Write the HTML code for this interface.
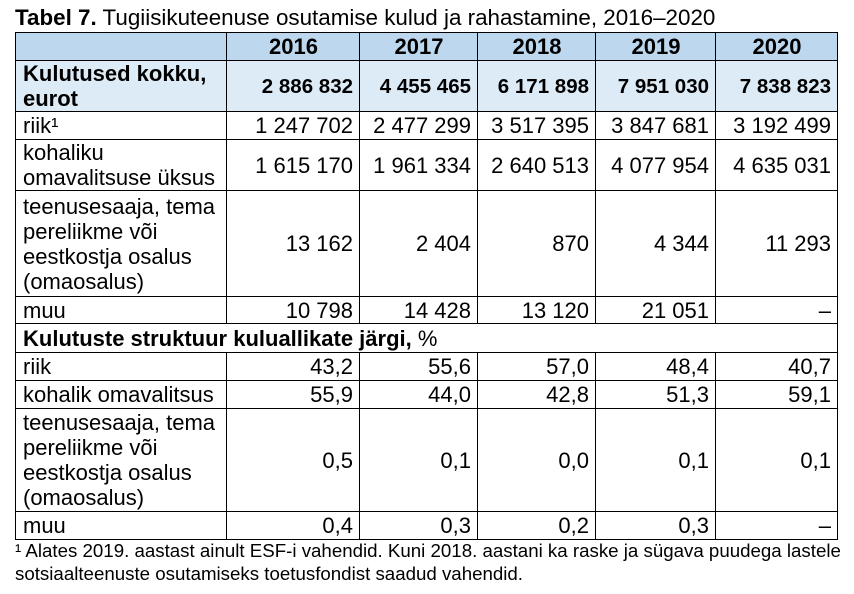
<!DOCTYPE html>
<html><head><meta charset="utf-8"><style>
body{margin:0;width:854px;height:594px;background:#fff;font-family:"Liberation Sans",Arial,sans-serif;color:#000;position:relative;overflow:hidden}
.title{position:absolute;left:15px;top:5px;font-size:22.4px;line-height:25px;white-space:nowrap}
table{position:absolute;left:15px;top:32px;border-collapse:collapse;table-layout:fixed;width:822px;font-size:22px;line-height:25px}
td{border:1px solid #000;padding:0 6px 0 7px;text-align:right;vertical-align:middle;white-space:nowrap;overflow:hidden}
td:first-child{text-align:left;white-space:normal}
tr.h td{background:#BDD7EE;font-weight:bold;text-align:center;font-size:22px}
tr.k td{background:#DDEBF7;font-weight:bold;font-size:20.5px}
tr.k td:first-child{font-size:22px}
tr.s td{text-align:left;font-weight:bold;font-size:22px}
.fn{position:absolute;left:15px;top:540px;font-size:18.7px;line-height:22.5px;white-space:nowrap}
</style></head><body>
<div class="title"><b>Tabel 7.</b> Tugiisikuteenuse osutamise kulud ja rahastamine, 2016–2020</div>
<table>
<colgroup><col style="width:211px"><col style="width:133px"><col style="width:118px"><col style="width:118px"><col style="width:120px"><col style="width:122px"></colgroup>
<tr class="h" style="height:28px"><td></td><td>2016</td><td>2017</td><td>2018</td><td>2019</td><td>2020</td></tr>
<tr class="k" style="height:51px"><td>Kulutused kokku, eurot</td><td>2 886 832</td><td>4 455 465</td><td>6 171 898</td><td>7 951 030</td><td>7 838 823</td></tr>
<tr style="height:28px"><td>riik¹</td><td>1 247 702</td><td>2 477 299</td><td>3 517 395</td><td>3 847 681</td><td>3 192 499</td></tr>
<tr style="height:50px"><td>kohaliku omavalitsuse üksus</td><td>1 615 170</td><td>1 961 334</td><td>2 640 513</td><td>4 077 954</td><td>4 635 031</td></tr>
<tr style="height:106px"><td>teenusesaaja, tema pereliikme või eestkostja osalus (omaosalus)</td><td>13 162</td><td>2 404</td><td>870</td><td>4 344</td><td>11 293</td></tr>
<tr style="height:27px"><td>muu</td><td>10 798</td><td>14 428</td><td>13 120</td><td>21 051</td><td>–</td></tr>
<tr class="s" style="height:29px"><td colspan="6">Kulutuste struktuur kuluallikate järgi, <span style="font-weight:normal">%</span></td></tr>
<tr style="height:28px"><td>riik</td><td>43,2</td><td>55,6</td><td>57,0</td><td>48,4</td><td>40,7</td></tr>
<tr style="height:28px"><td>kohalik omavalitsus</td><td>55,9</td><td>44,0</td><td>42,8</td><td>51,3</td><td>59,1</td></tr>
<tr style="height:103px"><td>teenusesaaja, tema pereliikme või eestkostja osalus (omaosalus)</td><td>0,5</td><td>0,1</td><td>0,0</td><td>0,1</td><td>0,1</td></tr>
<tr style="height:28px"><td>muu</td><td>0,4</td><td>0,3</td><td>0,2</td><td>0,3</td><td>–</td></tr>
</table>
<div class="fn">¹ Alates 2019. aastast ainult ESF-i vahendid. Kuni 2018. aastani ka raske ja sügava puudega lastele<br>sotsiaalteenuste osutamiseks toetusfondist saadud vahendid.</div>
</body></html>
